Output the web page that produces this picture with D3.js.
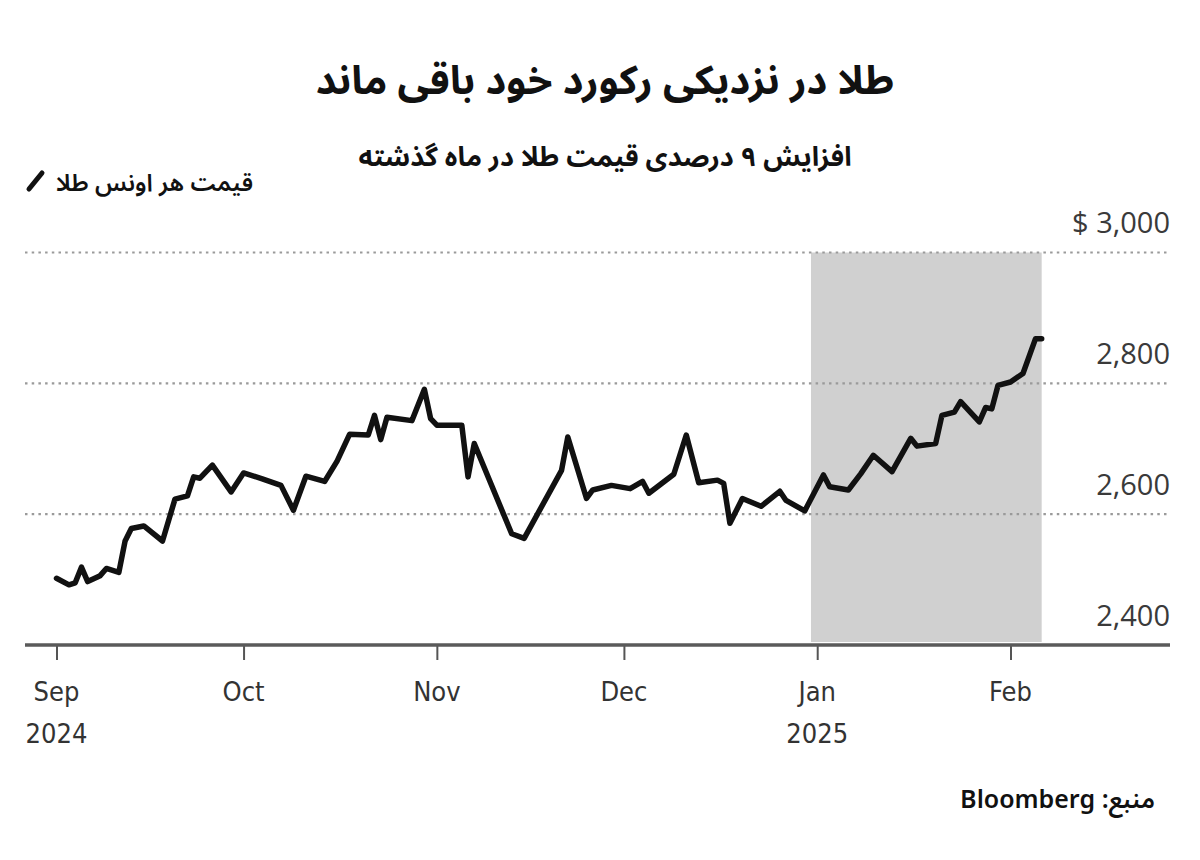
<!DOCTYPE html>
<html><head><meta charset="utf-8">
<script src="https://cdn.jsdelivr.net/npm/d3@7"></script>
<style>
body{margin:0;background:#fff}
svg{display:block}
.fa{font-family:"Noto Sans Arabic","Vazirmatn","DejaVu Sans",sans-serif}
</style></head>
<body><svg id="chart" width="1200" height="860"></svg>
<script>
// ---- data ----
const dates = ["2024-09-01","2024-09-03","2024-09-04","2024-09-05","2024-09-06","2024-09-08","2024-09-09","2024-09-11","2024-09-12","2024-09-13","2024-09-15","2024-09-18","2024-09-20","2024-09-22","2024-09-23","2024-09-24","2024-09-26","2024-09-29",
"2024-10-01","2024-10-04","2024-10-07","2024-10-09","2024-10-11","2024-10-14","2024-10-16","2024-10-18","2024-10-21","2024-10-22","2024-10-23","2024-10-24","2024-10-28","2024-10-30","2024-10-31",
"2024-11-01","2024-11-05","2024-11-06","2024-11-07","2024-11-13","2024-11-15","2024-11-21","2024-11-22","2024-11-25","2024-11-26","2024-11-29",
"2024-12-02","2024-12-04","2024-12-05","2024-12-09","2024-12-11","2024-12-13","2024-12-16","2024-12-17","2024-12-18","2024-12-20","2024-12-23","2024-12-26","2024-12-27","2024-12-30",
"2025-01-02","2025-01-03","2025-01-06","2025-01-08","2025-01-10","2025-01-13","2025-01-16","2025-01-17","2025-01-20","2025-01-21","2025-01-23","2025-01-24","2025-01-27","2025-01-28","2025-01-29","2025-01-30",
"2025-02-01","2025-02-03","2025-02-05","2025-02-06"];
const prices = [2502,2492,2495,2519,2497,2506,2517,2511,2559,2578,2582,2559,2623,2628,2657,2655,2675,2634,
2663,2654,2644,2606,2658,2650,2681,2722,2721,2751,2714,2748,2743,2791,2746,
2736,2736,2657,2708,2570,2563,2667,2718,2624,2637,2644,
2639,2650,2632,2661,2721,2648,2652,2647,2586,2624,2612,2635,2621,2605,
2660,2642,2637,2662,2690,2665,2716,2704,2708,2751,2756,2772,2741,2763,2761,2797,
2802,2815,2868,2868];
const tickDates = ["2024-09-01","2024-10-01","2024-11-01","2024-12-01","2025-01-01","2025-02-01"];
const tickMonths = ["Sep","Oct","Nov","Dec","Jan","Feb"];
const tickYears = ["2024","","","","2025",""];
const yTicks = [2400,2600,2800,3000];
const yTickLabels = ["2,400","2,600","2,800","$ 3,000"];
const highlightPeriod = ["2024-12-31","2025-02-06"];
const titleText = "طلا در نزدیکی رکورد خود باقی ماند";
const subtitleText = "افزایش ۹ درصدی قیمت طلا در ماه گذشته";
const legendText = "قیمت هر اونس طلا";
const sourceText = "منبع: Bloomberg";

// ---- chart ----
const parse = d3.utcParse("%Y-%m-%d");
const data = dates.map((d,i)=>({date:parse(d), v:prices[i]}));
const svg = d3.select("#chart");
svg.append("rect").attr("width",1200).attr("height",860).attr("fill","#fff");

const x = d3.scaleUtc().domain([parse("2024-09-01"), parse("2025-02-01")]).range([56.5, 1010.5]);
const y = d3.scaleLinear().domain([2400,3000]).range([645,252.5]);
const left = 25, right = 1170;

// highlight
svg.append("rect")
  .attr("x", x(parse(highlightPeriod[0])))
  .attr("width", x(parse(highlightPeriod[1])) - x(parse(highlightPeriod[0])))
  .attr("y", y(3000)).attr("height", y(2400) - y(3000) - 3)
  .attr("fill", "#d0d0d0");

// gridlines
svg.append("g").selectAll("line").data(yTicks.filter(v=>v>2400)).join("line")
  .attr("x1", left).attr("x2", right)
  .attr("y1", d=>y(d)).attr("y2", d=>y(d))
  .attr("stroke", "#9a9a9a").attr("stroke-width", 2.2).attr("stroke-dasharray", "2.5,4.2");

// y labels
const yAxis = svg.append("g").attr("transform", `translate(${right},0)`)
  .call(d3.axisLeft(y).tickValues(yTicks).tickSize(0).tickPadding(0).tickFormat((d,i)=>yTickLabels[i]));
yAxis.select(".domain").remove();
yAxis.selectAll("text").attr("dy", null).attr("y", -20).attr("x", 0)
  .attr("font-family", "'Open Sans', sans-serif").attr("font-size", 29).attr("fill", "#3a3a3a");

// x axis
const xAxis = svg.append("g").attr("transform", "translate(0,645)")
  .call(d3.axisBottom(x).tickValues(tickDates.map(parse)).tickSize(15).tickFormat(""));
xAxis.select(".domain").remove();
xAxis.selectAll(".tick line").attr("stroke", "#555").attr("stroke-width", 2);
svg.append("line").attr("x1", left).attr("x2", right).attr("y1", 645).attr("y2", 645)
  .attr("stroke", "#5a5a5a").attr("stroke-width", 3.5);

const xl = svg.append("g").attr("font-family", "'DejaVu Sans Condensed','DejaVu Sans',sans-serif")
  .attr("font-size", 27).attr("fill", "#333").attr("text-anchor", "middle")
  .style("font-stretch", "semi-condensed");
xl.selectAll("text.m").data(tickDates).join("text").attr("class","m")
  .attr("x", d=>x(parse(d))).attr("y", 701).text((d,i)=>tickMonths[i]);
xl.selectAll("text.yr").data(tickDates).join("text").attr("class","yr")
  .attr("x", d=>x(parse(d))).attr("y", 743).text((d,i)=>tickYears[i]);

// line
svg.append("path").datum(data)
  .attr("d", d3.line().x(d=>x(d.date)).y(d=>y(d.v)))
  .attr("fill", "none").attr("stroke", "#111").attr("stroke-width", 5.5)
  .attr("stroke-linejoin", "round").attr("stroke-linecap", "round");

// titles
svg.append("text").attr("class","fa").attr("x", 605).attr("y", 94).attr("text-anchor","middle")
  .attr("font-size", 40).attr("font-weight", "bold").attr("fill", "#111").text(titleText);
svg.append("text").attr("class","fa").attr("x", 605).attr("y", 166).attr("text-anchor","middle")
  .attr("font-size", 27).attr("font-weight", "bold").attr("fill", "#111").text(subtitleText);

// legend
svg.append("line").attr("x1", 29).attr("y1", 189).attr("x2", 42).attr("y2", 173)
  .attr("stroke", "#111").attr("stroke-width", 5).attr("stroke-linecap", "round");
svg.append("text").attr("class","fa").attr("x", 253).attr("y", 191).attr("text-anchor","end")
  .attr("font-size", 24).attr("font-weight", 600).attr("fill", "#111").text(legendText);

// source
svg.append("text").attr("class","fa").attr("x", 1155).attr("y", 808)
  .attr("direction","rtl").attr("text-anchor","start")
  .attr("font-size", 25).attr("font-weight", 600).attr("fill", "#111").text(sourceText);
</script></body></html>
